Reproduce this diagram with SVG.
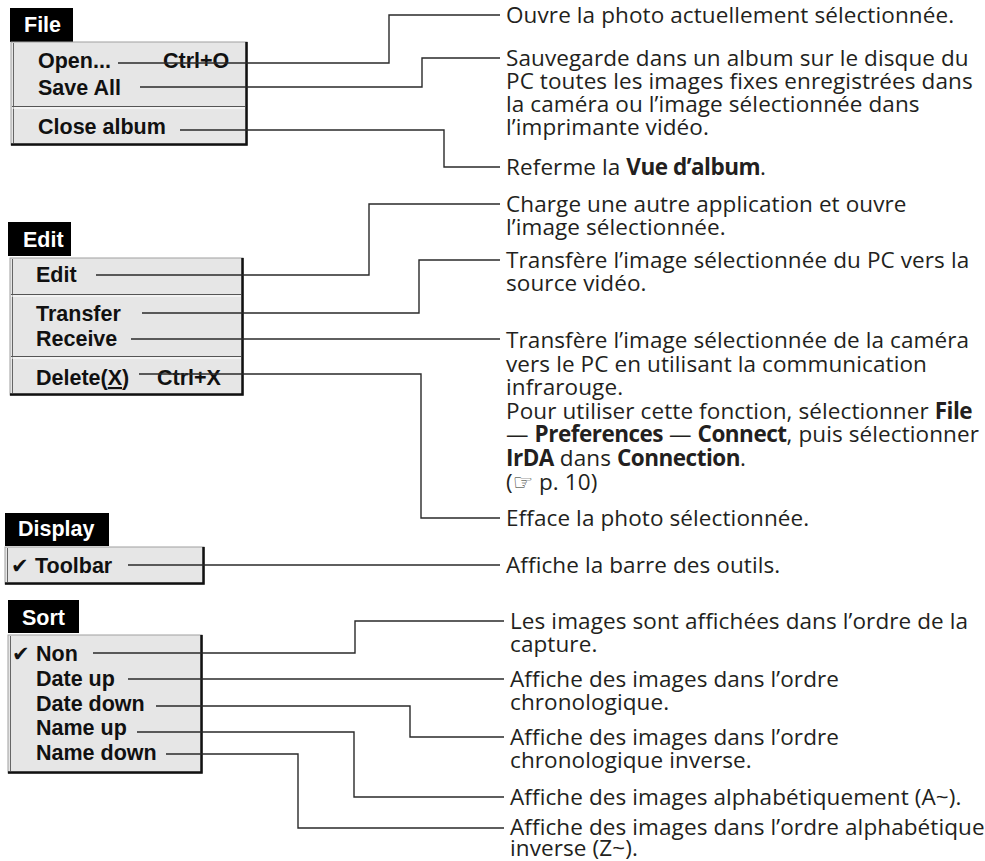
<svg xmlns="http://www.w3.org/2000/svg" width="985" height="861" viewBox="0 0 985 861">
<style>
.bg{fill:#ffffff}
.title{fill:#000}
.ttext{font-family:"Liberation Sans",Arial,sans-serif;font-weight:bold;font-size:21.5px;fill:#fff}
.menu{fill:#e6e6e6;stroke:#a0a0a0;stroke-width:1}
.edge{stroke:#111;stroke-width:2.5;fill:none}
.inner{stroke:#666;stroke-width:1;fill:none}
.sepd{stroke:#555;stroke-width:1.2}
.sepl{stroke:#fff;stroke-width:1.2}
.item{font-family:"Liberation Sans",Arial,sans-serif;font-weight:bold;font-size:21.5px;fill:#111}
.chk{font-family:"DejaVu Sans",sans-serif;font-size:21px;fill:#111}
.desc{font-family:"Open Sans","Noto Sans",sans-serif;font-size:22.5px;letter-spacing:0.1px;fill:#231f20}
.b{font-weight:bold;letter-spacing:-0.5px}
.hand{font-family:"DejaVu Sans",sans-serif}
.conn{fill:none;stroke:#2a2a2a;stroke-width:1.4}
</style>
<rect class="bg" x="0" y="0" width="985" height="861"/>

<g id="menu-file">
  <rect class="title" x="10" y="8" width="63" height="34"/>
  <text class="ttext" x="24" y="32">File</text>
  <rect class="menu" x="11" y="42" width="236" height="103"/>
  <line class="inner" x1="13.5" y1="43" x2="13.5" y2="143"/>
  <path class="edge" d="M246.5,42 V144.5 H11"/>
  <line class="sepd" x1="12" y1="106.5" x2="245" y2="106.5"/>
  <line class="sepl" x1="12" y1="108" x2="245" y2="108"/>
  <text class="item" x="38" y="68">Open...</text>
  <text class="item" x="163" y="68">Ctrl+O</text>
  <text class="item" x="38" y="95">Save All</text>
  <text class="item" x="38" y="134">Close album</text>
</g>

<g id="menu-edit">
  <rect class="title" x="8" y="222" width="63" height="34"/>
  <text class="ttext" x="23" y="247">Edit</text>
  <rect class="menu" x="10" y="258" width="233" height="137"/>
  <line class="inner" x1="12.5" y1="259" x2="12.5" y2="393"/>
  <path class="edge" d="M242.5,258 V394.5 H10"/>
  <line class="sepd" x1="11" y1="294.5" x2="241" y2="294.5"/>
  <line class="sepl" x1="11" y1="296" x2="241" y2="296"/>
  <line class="sepd" x1="11" y1="356.5" x2="241" y2="356.5"/>
  <line class="sepl" x1="11" y1="358" x2="241" y2="358"/>
  <text class="item" x="36" y="282">Edit</text>
  <text class="item" x="36" y="321">Transfer</text>
  <text class="item" x="36" y="346">Receive</text>
  <text class="item" x="36" y="385">Delete(<tspan text-decoration="underline">X</tspan>)</text>
  <text class="item" x="157" y="385">Ctrl+X</text>
</g>

<g id="menu-display">
  <rect class="title" x="5" y="513" width="104" height="33"/>
  <text class="ttext" x="18" y="536">Display</text>
  <rect class="menu" x="5" y="547" width="199" height="37"/>
  <line class="inner" x1="7.5" y1="548" x2="7.5" y2="582"/>
  <path class="edge" d="M203.5,547 V583.5 H5"/>
  <text class="chk" x="11" y="573">✔</text>
  <text class="item" x="35" y="573">Toolbar</text>
</g>

<g id="menu-sort">
  <rect class="title" x="8" y="600" width="71" height="33"/>
  <text class="ttext" x="22" y="625">Sort</text>
  <rect class="menu" x="8" y="635" width="194" height="138"/>
  <line class="inner" x1="10.5" y1="636" x2="10.5" y2="771"/>
  <path class="edge" d="M201.5,635 V772.5 H8"/>
  <text class="chk" x="12" y="661">✔</text>
  <text class="item" x="36" y="661">Non</text>
  <text class="item" x="36" y="686">Date up</text>
  <text class="item" x="36" y="711">Date down</text>
  <text class="item" x="36" y="735">Name up</text>
  <text class="item" x="36" y="760">Name down</text>
</g>

<g id="connectors">
  <path class="conn" d="M118,63 H389 V15 H500"/>
  <path class="conn" d="M140,87 H422 V58 H500"/>
  <path class="conn" d="M180,130 H444 V167 H500"/>
  <path class="conn" d="M96,275 H369 V204 H500"/>
  <path class="conn" d="M142,313 H419 V260 H500"/>
  <path class="conn" d="M131,339 H500"/>
  <path class="conn" d="M139,374 H421 V518 H500"/>
  <path class="conn" d="M128,565 H500"/>
  <path class="conn" d="M93,653 H355 V621 H504"/>
  <path class="conn" d="M128,679 H504"/>
  <path class="conn" d="M156,706 H410 V737 H504"/>
  <path class="conn" d="M137,732 H354 V797 H504"/>
  <path class="conn" d="M166,754 H298 V828 H504"/>
</g>

<g id="desc-open"><text class="desc" x="506" y="23">Ouvre la photo actuellement sélectionnée.</text></g>
<g id="desc-saveall">
  <text class="desc" x="506" y="66">Sauvegarde dans un album sur le disque du</text>
  <text class="desc" x="506" y="89">PC toutes les images fixes enregistrées dans</text>
  <text class="desc" x="506" y="112">la caméra ou l’image sélectionnée dans</text>
  <text class="desc" x="506" y="135">l’imprimante vidéo.</text>
</g>
<g id="desc-close"><text class="desc" x="506" y="175">Referme la <tspan class="b">Vue d’album</tspan>.</text></g>
<g id="desc-edit">
  <text class="desc" x="506" y="212">Charge une autre application et ouvre</text>
  <text class="desc" x="506" y="235">l’image sélectionnée.</text>
</g>
<g id="desc-transfer">
  <text class="desc" x="506" y="268">Transfère l’image sélectionnée du PC vers la</text>
  <text class="desc" x="506" y="291">source vidéo.</text>
</g>
<g id="desc-receive">
  <text class="desc" x="506" y="348">Transfère l’image sélectionnée de la caméra</text>
  <text class="desc" x="506" y="371.6">vers le PC en utilisant la communication</text>
  <text class="desc" x="506" y="395.2">infrarouge.</text>
  <text class="desc" x="506" y="418.8">Pour utiliser cette fonction, sélectionner <tspan class="b">File</tspan></text>
  <text class="desc" x="506" y="442.4">— <tspan class="b">Preferences</tspan> — <tspan class="b">Connect</tspan>, puis sélectionner</text>
  <text class="desc" x="506" y="466"><tspan class="b">IrDA</tspan> dans <tspan class="b">Connection</tspan>.</text>
  <text class="desc" x="506" y="489.6">(<tspan class="hand">☞</tspan> p. 10)</text>
</g>
<g id="desc-delete"><text class="desc" x="506" y="526">Efface la photo sélectionnée.</text></g>
<g id="desc-toolbar"><text class="desc" x="506" y="573">Affiche la barre des outils.</text></g>
<g id="desc-non">
  <text class="desc" x="510" y="629">Les images sont affichées dans l’ordre de la</text>
  <text class="desc" x="510" y="652">capture.</text>
</g>
<g id="desc-dateup">
  <text class="desc" x="510" y="687">Affiche des images dans l’ordre</text>
  <text class="desc" x="510" y="710">chronologique.</text>
</g>
<g id="desc-datedown">
  <text class="desc" x="510" y="745">Affiche des images dans l’ordre</text>
  <text class="desc" x="510" y="768">chronologique inverse.</text>
</g>
<g id="desc-nameup"><text class="desc" x="510" y="805">Affiche des images alphabétiquement (A~).</text></g>
<g id="desc-namedown">
  <text class="desc" x="510" y="835">Affiche des images dans l’ordre alphabétique</text>
  <text class="desc" x="510" y="856">inverse (Z~).</text>
</g>
</svg>
